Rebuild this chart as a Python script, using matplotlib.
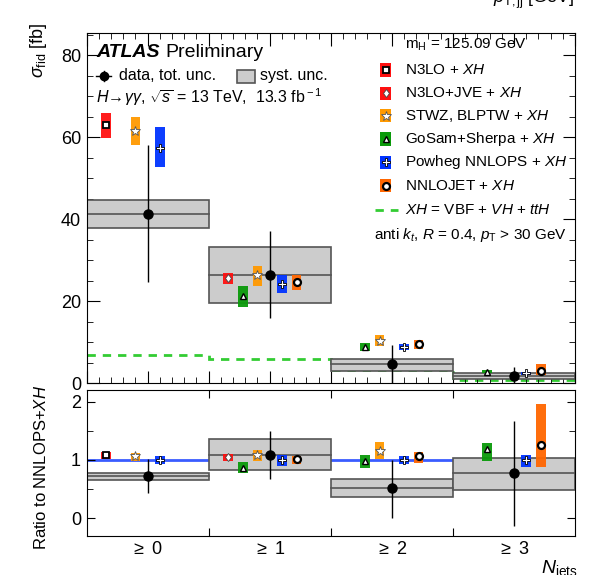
import numpy as np
import matplotlib
matplotlib.use('Agg')
import matplotlib.pyplot as plt
from matplotlib.patches import Rectangle
from matplotlib.ticker import MultipleLocator, FixedLocator, NullFormatter

plt.rcParams['font.family'] = ['Liberation Sans', 'DejaVu Sans']
plt.rcParams['mathtext.fontset'] = 'custom'
plt.rcParams['mathtext.rm'] = 'Liberation Sans'
plt.rcParams['mathtext.it'] = 'Liberation Sans:italic'
plt.rcParams['mathtext.bf'] = 'Liberation Sans:bold'

# --- data ---
bins = ['$\\geq$ 0', '$\\geq$ 1', '$\\geq$ 2', '$\\geq$ 3']

data_xs = [41.4, 26.5, 4.6, 1.7]
data_lo = [24.6, 15.9, 0.0, 0.0]
data_hi = [58.2, 37.1, 9.4, 3.9]
syst_lo = [37.9, 19.7, 3.1, 1.1]
syst_hi = [44.8, 33.2, 6.0, 2.5]
xh = [6.8, 6.0, 3.3, 0.8]

data_ratio = [0.72, 1.09, 0.52, 0.77]
data_ratio_lo = [0.43, 0.67, 0.0, -0.14]
data_ratio_hi = [1.01, 1.50, 1.0, 1.66]
syst_ratio_lo = [0.65, 0.82, 0.37, 0.48]
syst_ratio_hi = [0.78, 1.36, 0.67, 1.04]

# (central, low, high) per bin, None = not shown
n3lo = [(62.9, 59.9, 65.8), None, None, None]
n3lo_jve = [None, (25.7, 24.3, 26.8), None, None]
stwz = [(61.6, 58.1, 64.9), (26.3, 23.8, 28.5), (10.4, 9.2, 11.7), None]
gosam = [None, (21.2, 18.6, 23.7), (8.8, 7.8, 9.8), (2.8, 2.4, 3.2)]
powheg = [(57.4, 52.7, 62.4), (24.2, 22.0, 26.4), (8.9, 8.2, 9.6), (2.4, 2.1, 2.7)]
nnlojet = [None, (24.8, 22.7, 26.4), (9.6, 8.4, 10.6), (3.0, 2.0, 4.6)]

n3lo_r = [(1.08, 1.02, 1.14), None, None, None]
n3lo_jve_r = [None, (1.05, 0.99, 1.11), None, None]
stwz_r = [(1.06, 0.98, 1.12), (1.08, 0.98, 1.17), (1.16, 1.01, 1.30), None]
gosam_r = [None, (0.87, 0.77, 0.96), (0.99, 0.87, 1.08), (1.18, 0.98, 1.29)]
powheg_r = [(1.0, 0.93, 1.07), (1.0, 0.90, 1.08), (1.0, 0.93, 1.07), (1.0, 0.88, 1.08)]
nnlojet_r = [None, (1.02, 0.93, 1.07), (1.06, 0.94, 1.14), (1.25, 0.88, 1.96)]

labels = ['N3LO + $XH$', 'N3LO+JVE + $XH$', 'STWZ, BLPTW + $XH$',
          'GoSam+Sherpa + $XH$', 'Powheg NNLOPS + $XH$', 'NNLOJET + $XH$']

# --- styles ---
colors = ['#FF1010', '#FF1010', '#FF9900', '#0A9A0A', '#0033FF', '#FF6600']
offsets = [-0.34, -0.34, -0.10, -0.22, 0.10, 0.22]
markers = [
    dict(marker='s', ms=5, mfc='white', mec='black', mew=1.3),
    dict(marker='d', ms=4.5, mfc='white', mec='#444444', mew=0.6),
    dict(marker='*', ms=7, mfc='white', mec='#555555', mew=0.6),
    dict(marker='^', ms=4.8, mfc='white', mec='black', mew=1.0),
    dict(marker='P', ms=5.5, mfc='white', mec='black', mew=0.6),
    dict(marker='o', ms=5, mfc='white', mec='black', mew=1.6),
]
main_vals = [n3lo, n3lo_jve, stwz, gosam, powheg, nnlojet]
ratio_vals = [n3lo_r, n3lo_jve_r, stwz_r, gosam_r, powheg_r, nnlojet_r]
bw = 0.078
box_fc, box_ec = '#CCCCCC', '#555555'
xh_color = '#33CC33'

W, H = 604, 575
fig = plt.figure(figsize=(W / 100, H / 100), dpi=100)
ax = fig.add_axes([86.5 / W, 1 - 383.3 / H, (575 - 86.5) / W, (383.3 - 32.7) / H])
rx = fig.add_axes([86.5 / W, 1 - 535.7 / H, (575 - 86.5) / W, (535.7 - 390) / H])

x = np.arange(len(bins))
edges = np.arange(-0.5, len(bins), 1.0)


def draw_panel(a, cen, lo, hi, slo, shi, preds):
    for i in x:
        a.add_patch(Rectangle((i - 0.5, slo[i]), 1, shi[i] - slo[i], fc=box_fc,
                              ec=box_ec, lw=1.2, zorder=2))
        a.plot([i - 0.5, i + 0.5], [cen[i], cen[i]], color=box_ec, lw=1.2, zorder=2.5)
    for vals, off, col, mk in zip(preds, offsets, colors, markers):
        for i, v in enumerate(vals):
            if v is None:
                continue
            c, l, h = v
            a.add_patch(Rectangle((i + off - bw / 2, l), bw, h - l, fc=col, ec='none',
                                  alpha=0.95, zorder=3))
            a.plot(i + off, c, ls='none', zorder=4, **mk)
    a.errorbar(x, cen, yerr=[np.array(cen) - np.array(lo), np.array(hi) - np.array(cen)],
               fmt='o', color='black', ms=6.5, elinewidth=1, capsize=0, zorder=5)
    a.set_xlim(-0.5, len(bins) - 0.5)


# main panel
ax.stairs(xh, edges, baseline=None, color=xh_color, ls=(0, (3, 2.5)), lw=2, zorder=1)
draw_panel(ax, data_xs, data_lo, data_hi, syst_lo, syst_hi, main_vals)
ax.set_ylim(0, 85.5)
ax.xaxis.set_major_locator(MultipleLocator(0.5))
ax.xaxis.set_minor_locator(MultipleLocator(0.1))
ax.xaxis.set_major_formatter(NullFormatter())
ax.yaxis.set_major_locator(MultipleLocator(20))
ax.yaxis.set_minor_locator(MultipleLocator(5))
ax.tick_params(which='both', direction='in', top=True, right=True, labelsize=13, pad=4)
ax.tick_params(which='major', length=9)
ax.tick_params(which='minor', length=4.5)
ax.set_ylabel(r'$\sigma_{\rm fid}$ [fb]', loc='top', fontsize=13)
ax.yaxis.set_label_coords(-0.076, 1.03)

# ratio panel
rx.axhline(1.0, color='#3A5CFF', lw=2, zorder=1)
draw_panel(rx, data_ratio, data_ratio_lo, data_ratio_hi, syst_ratio_lo, syst_ratio_hi,
           ratio_vals)
rx.set_ylim(-0.3, 2.2)
rx.xaxis.set_major_locator(FixedLocator(edges[1:-1]))
rx.xaxis.set_major_formatter(NullFormatter())
rx.xaxis.set_minor_locator(FixedLocator(x))
rx.set_xticklabels(bins, minor=True)
rx.yaxis.set_major_locator(MultipleLocator(1))
rx.yaxis.set_minor_locator(MultipleLocator(0.5))
rx.tick_params(which='both', direction='in', top=True, right=True, labelsize=13)
rx.tick_params(axis='x', which='major', length=6)
rx.tick_params(axis='x', which='minor', length=0, pad=4)
rx.tick_params(axis='y', which='major', length=6, pad=4)
rx.tick_params(axis='y', which='minor', length=4)
rx.set_ylabel('Ratio to NNLOPS+$XH$', fontsize=12)
rx.yaxis.set_label_coords(-0.076, 0.47)

# --- legend / annotations in pixel coordinates ---
lg = fig.add_axes([0, 0, 1, 1], zorder=10)
lg.set_xlim(0, W)
lg.set_ylim(H, 0)
lg.axis('off')

lg.text(96.7, 56.7, 'ATLAS', fontsize=14, fontweight='bold', fontstyle='italic', va='baseline')
lg.text(165, 56.7, 'Preliminary', fontsize=14, va='baseline')
lg.plot([96, 111], [75.7, 75.7], color='black', lw=1)
lg.plot([103.5, 103.5], [70.5, 81], color='black', lw=1)
lg.plot(103.5, 75.7, 'o', color='black', ms=6)
lg.text(119, 75.7, 'data, tot. unc.', fontsize=11.5, va='center')
lg.add_patch(Rectangle((237, 69.5), 18, 13.5, fc=box_fc, ec=box_ec, lw=1.2))
lg.text(260, 75.7, 'syst. unc.', fontsize=11.5, va='center')
lg.text(96, 102.7, r'$H\!\rightarrow\!\gamma\gamma$, $\sqrt{s}$ = 13 TeV,  13.3 fb$^{\rm -1}$',
        fontsize=11.5, va='baseline')

lg.text(405, 45, r'm$_{\rm H}$ = 125.09 GeV', fontsize=11, va='center')
row_y = [70, 93.3, 115.6, 138.9, 162.2, 185.5]
for yy, lab, col, mk in zip(row_y, labels, colors, markers):
    lg.add_patch(Rectangle((380.3, yy - 6.7), 10.8, 13.4, fc=col, ec='none'))
    lg.plot(385.7, yy, ls='none', **mk)
    lg.text(405, yy, lab, fontsize=11, va='center')
lg.plot([375, 398], [210, 210], color=xh_color, ls=(0, (3, 2.5)), lw=2)
lg.text(405, 210, '$XH$ = VBF + $VH$ + $ttH$', fontsize=11, va='center')
lg.text(374, 235, r'anti $k_{t}$, $R$ = 0.4, $p_{\rm T}$ > 30 GeV', fontsize=11, va='center')

lg.text(541, 574, r'$N_{\rm jets}$', fontsize=14, va='baseline', ha='left')
lg.text(575, 3, r'$p_{\rm T,jj}$ [GeV]', fontsize=13, va='baseline', ha='right')

fig.savefig('out.png', dpi=100)
